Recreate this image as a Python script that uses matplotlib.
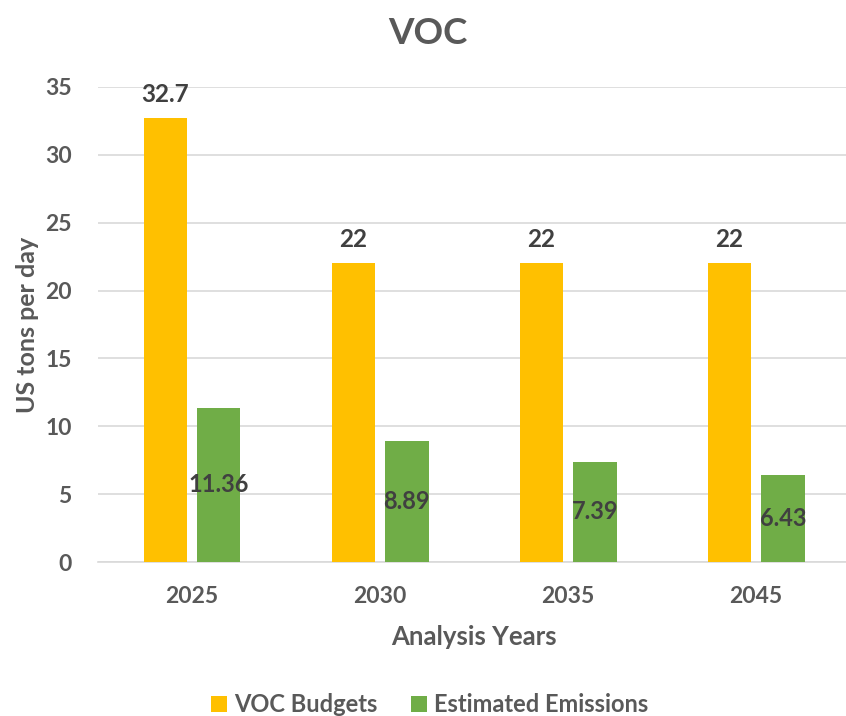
import matplotlib.pyplot as plt
import numpy as np

years = ["2025", "2030", "2035", "2045"]
budgets = [32.7, 22, 22, 22]
emissions = [11.36, 8.89, 7.39, 6.43]
budget_labels = ["32.7", "22", "22", "22"]
emission_labels = ["11.36", "8.89", "7.39", "6.43"]

plt.rcParams['font.family'] = ['Lato', 'DejaVu Sans']
txt = '#595959'

fig = plt.figure(figsize=(8.46, 7.16), dpi=100)
ax = fig.add_axes([0.1158, 0.215, 0.889, 0.6635])

x = np.arange(len(years))
w = 0.23
b1 = ax.bar(x - 0.142, budgets, w, color='#FFC000', label='VOC Budgets', zorder=3)
b2 = ax.bar(x + 0.143, emissions, w, color='#70AD47', label='Estimated Emissions', zorder=3)

for rect, lab in zip(b1, budget_labels):
    ax.annotate(lab, (rect.get_x() + rect.get_width() / 2, rect.get_height()),
                xytext=(0, 17), textcoords='offset points', ha='center', va='center',
                fontsize=17.5, fontweight='bold', color='#404040')
for rect, lab in zip(b2, emission_labels):
    ax.text(rect.get_x() + rect.get_width() / 2, rect.get_height() / 2, lab,
            ha='center', va='center', fontsize=17, fontweight='bold', color='#404040', zorder=4)

ax.set_xlim(-0.5, 3.5)
ax.set_ylim(0, 35)
ax.set_yticks(range(0, 36, 5))
ax.set_xticks(x)
ax.set_xticklabels(years)
ax.grid(axis='y', color='#D9D9D9', linewidth=1.2, zorder=0)
for s in ['top', 'right', 'left']:
    ax.spines[s].set_visible(False)
ax.spines['bottom'].set_color('#D9D9D9')
ax.spines['bottom'].set_linewidth(1.2)
ax.tick_params(axis='both', length=0, labelsize=16.5, labelcolor=txt)
for t in ax.get_xticklabels() + ax.get_yticklabels():
    t.set_fontweight('bold')
ax.tick_params(axis='y', pad=19)
ax.tick_params(axis='x', pad=17)

ax.set_xlabel('Analysis Years', fontsize=18.5, fontweight='bold', color=txt, labelpad=13)
ax.set_ylabel('US tons per day', fontsize=18, fontweight='bold', color=txt, labelpad=4)
fig.text(0.506, 0.953, 'VOC', ha='center', va='center', fontsize=26.5,
         fontweight='bold', color=txt)

fig.legend(loc='center', bbox_to_anchor=(0.508, 0.016), ncol=2, frameon=False,
           handlelength=0.7, handleheight=0.7, handletextpad=0.3,
           columnspacing=1.4, labelcolor=txt, prop={'weight': 'bold', 'size': 17})

fig.savefig('out.png', dpi=100)
